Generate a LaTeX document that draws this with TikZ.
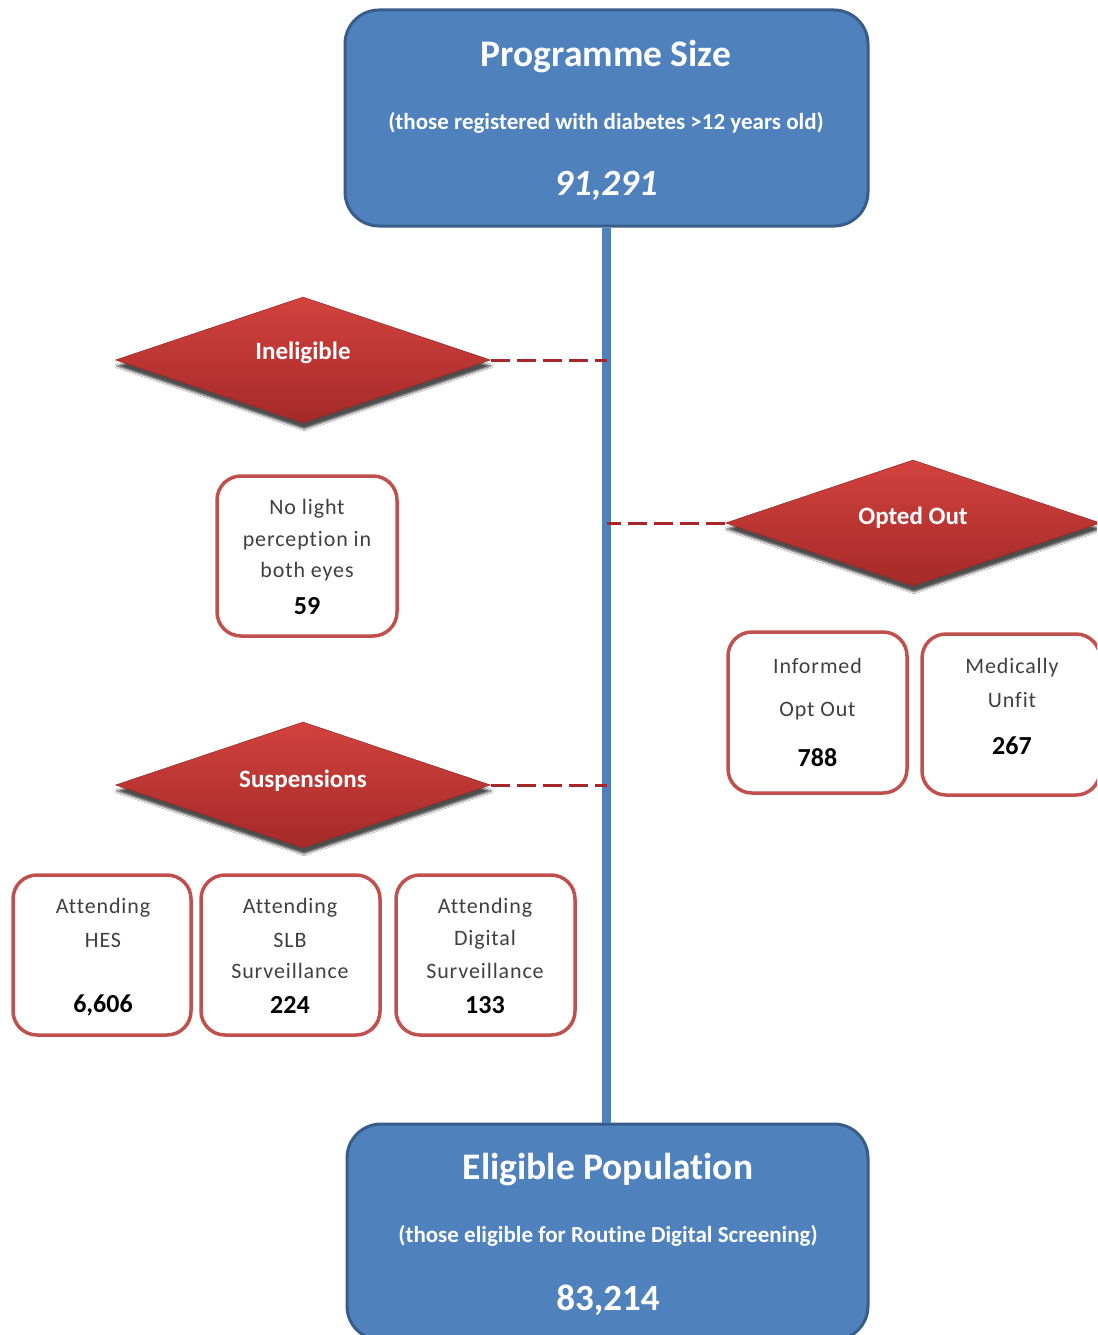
\documentclass[tikz,border=0pt]{standalone}
\usepackage{fontspec}
\setmainfont{Carlito}[Ligatures={NoCommon}]
\newfontfamily\spacedfont[LetterSpace=4,Ligatures={NoCommon}]{Carlito}
\usetikzlibrary{shapes.geometric,shadows.blur}
\definecolor{bfill}{HTML}{4F81BD}
\definecolor{bline}{HTML}{385D8A}
\definecolor{rline}{HTML}{C0504D}
\definecolor{rtop}{HTML}{D2423E}
\definecolor{rbot}{HTML}{A42A28}
\definecolor{dashred}{HTML}{A8262A}
\definecolor{tgray}{HTML}{404040}
\begin{document}
\begin{tikzpicture}[x=1pt,y=-1pt,
  bigbox/.style={draw=bline,line width=3pt,fill=bfill,rounded corners=34pt,inner sep=0pt},
  bigtitle/.style={text=white,font=\fontsize{37.5}{42}\selectfont\bfseries},
  bigsub/.style={text=white,font=\fontsize{23}{26}\selectfont\bfseries},
  bignum/.style={text=white,font=\fontsize{37}{42}\selectfont\bfseries},
  dia/.style={diamond,inner sep=0pt,minimum width=375pt,minimum height=126pt,
    top color=rtop,bottom color=rbot,draw=rbot!90!black,line width=0.5pt,
    blur shadow={shadow xshift=1pt,shadow yshift=-6pt,shadow blur steps=4,shadow opacity=70}},
  diatext/.style={text=white,font=\fontsize{25}{28}\selectfont\bfseries},
  smallbox/.style={draw=rline,line width=3.5pt,fill=white,rounded corners=24pt,inner sep=0pt,
    minimum width=178pt,minimum height=160pt},
  lbl/.style={text=tgray,font=\fontsize{22}{25}\spacedfont\selectfont},
  num/.style={text=black,font=\fontsize{26}{30}\selectfont\bfseries},
  spine/.style={draw=bfill,line width=9pt},
  dashlink/.style={draw=dashred,line width=3pt,dash pattern=on 19pt off 7pt}
]
\clip (0,0) rectangle (1097,1335);
\fill[white] (0,0) rectangle (1097,1335);

% top box
\node[bigbox,minimum width=523pt,minimum height=216pt] (top) at (606.5,118) {};
\node[bigtitle] (toptitle) at (606,57) {Programme Size};
\node[bigsub] (topsub) at (606,123) {(those registered with diabetes >12 years old)};
\node[bignum] (topnum) at (606,186) {\itshape 91,291};

% bottom box
\node[bigbox,minimum width=521pt,minimum height=216pt] (bot) at (607.5,1232) {};

% spine
\draw[spine] (top.south) -- (top.south |- bot.north);

\node[bigtitle] (bottitle) at (608,1170) {Eligible Population};
\node[bigsub] (botsub) at (608,1236) {(those eligible for Routine Digital Screening)};
\node[bignum] (botnum) at (608,1300) {83,214};

% diamonds
\node[dia] (inel) at (303,360) {};
\node[diatext] (ineltext) at (303,353) {Ineligible};
\node[dia] (susp) at (303,785) {};
\node[diatext] (susptext) at (303,781) {Suspensions};
\node[dia] (opt) at (913,523) {};
\node[diatext] (opttext) at (913,518) {Opted Out};

% dashed links
\draw[dashlink] (inel.east) -- (inel.east -| top.south);
\draw[dashlink] (susp.east) -- (susp.east -| top.south);
\draw[dashlink] (opt.west) -- (opt.west -| top.south);

% no light perception
\node[smallbox,minimum width=180pt] (nolight) at (307,556) {};
\node[lbl] (nl1) at (307,509) {No light};
\node[lbl] (nl2) at (307,541) {perception in};
\node[lbl] (nl3) at (307,572) {both eyes};
\node[num] (nl4) at (307,606) {59};

% opted out boxes
\node[smallbox,minimum width=179pt,minimum height=161pt] (inf) at (817.5,712.5) {};
\node[lbl] (inf1) at (817.5,666) {Informed};
\node[lbl] (inf2) at (817.5,711) {Opt Out};
\node[num] (inf3) at (817.5,758) {788};

\node[smallbox,minimum width=178pt,minimum height=161pt] (med) at (1011,714.5) {};
\node[lbl] (med1) at (1012,668) {Medically};
\node[lbl] (med2) at (1012,700) {Unfit};
\node[num] (med3) at (1012,746) {267};

% suspension boxes
\node[smallbox] (hes) at (102,955) {};
\node[lbl] (hes1) at (103,908) {Attending};
\node[lbl] (hes2) at (103,940) {HES};
\node[num] (hes3) at (103,1005) {6,606};

\node[smallbox,minimum width=179pt] (slb) at (290.5,955) {};
\node[lbl] (slb1) at (290,908) {Attending};
\node[lbl] (slb2) at (290,940) {SLB};
\node[lbl] (slb3) at (290,971) {Surveillance};
\node[num] (slb4) at (290,1005) {224};

\node[smallbox,minimum width=179pt] (dig) at (485.5,955) {};
\node[lbl] (dig1) at (485,908) {Attending};
\node[lbl] (dig2) at (485,940) {Digital};
\node[lbl] (dig3) at (485,971) {Surveillance};
\node[num] (dig4) at (485,1005) {133};
\end{tikzpicture}
\end{document}
